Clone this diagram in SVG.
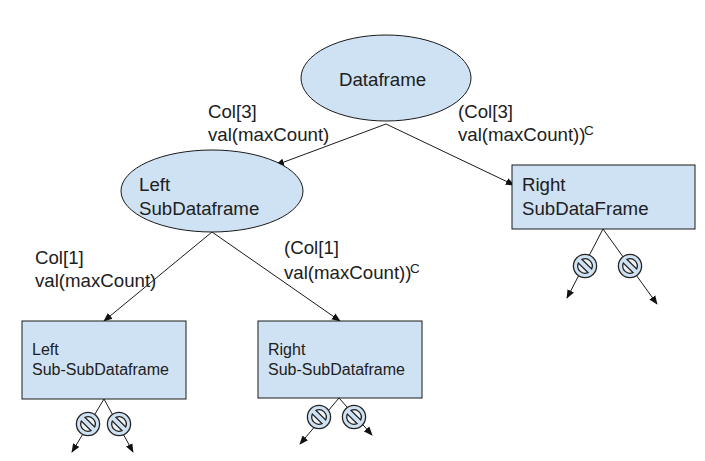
<svg xmlns="http://www.w3.org/2000/svg" width="705" height="461" viewBox="0 0 705 461">
<style>
text{font-family:"Liberation Sans",Arial,sans-serif;font-size:18.67px;fill:#202020}
.s{font-size:16px}
.sup{font-size:13.5px}
.n{fill:#cfe2f3;stroke:#1a1a1a;stroke-width:1}
.c line{stroke:#1a1a1a;stroke-width:1;marker-end:url(#a)}
.r{fill:#cfe2f3;stroke:#222;stroke-width:1.3}
.h{fill:#eef2f5;stroke:#222;stroke-width:1.3}
</style>
<defs>
<marker id="a" viewBox="0 0 10 10" refX="9" refY="5" markerWidth="9" markerHeight="9" markerUnits="userSpaceOnUse" orient="auto"><path d="M0 1 L10 5 L0 9 Z" fill="#111"/></marker>
<g id="nb"><circle r="11.6" class="r"/><g transform="rotate(45)"><path class="h" d="M-6.8 -2.6A7.3 7.3 0 0 1 6.8 -2.6Z"/><path class="h" d="M-6.8 2.6A7.3 7.3 0 0 0 6.8 2.6Z"/></g></g>
</defs>
<g id="connectors" class="c">
<line x1="386" y1="124" x2="276" y2="165"/>
<line x1="386" y1="124" x2="514" y2="185"/>
<line x1="212" y1="232" x2="104" y2="321"/>
<line x1="212" y1="232" x2="340" y2="321"/>
<line x1="603" y1="229" x2="567" y2="298"/>
<line x1="603" y1="229" x2="657" y2="304"/>
<line x1="104" y1="399" x2="72" y2="452"/>
<line x1="104" y1="399" x2="133" y2="452"/>
<line x1="339" y1="398" x2="300" y2="444"/>
<line x1="339" y1="398" x2="372" y2="435"/>
</g>
<g id="dataframe"><ellipse class="n" cx="386" cy="78" rx="85" ry="43"/><text x="339" y="86">Dataframe</text></g>
<g id="left-subdataframe"><ellipse class="n" cx="212" cy="191" rx="91" ry="41"/><text x="139" y="191">Left</text><text x="139" y="215">SubDataframe</text></g>
<g id="right-subdataframe"><rect class="n" x="512" y="165" width="183" height="64"/><text x="522" y="191">Right</text><text x="522" y="215">SubDataFrame</text></g>
<g id="left-sub-subdataframe"><rect class="n" x="22" y="321" width="164" height="78"/><text class="s" x="32" y="355">Left</text><text class="s" x="32" y="375">Sub-SubDataframe</text></g>
<g id="right-sub-subdataframe"><rect class="n" x="258" y="321" width="164" height="77"/><text class="s" x="268" y="355">Right</text><text class="s" x="268" y="375">Sub-SubDataframe</text></g>
<g id="labels">
<text x="208" y="118">Col[3]</text><text x="208" y="141">val(maxCount)</text>
<text x="458" y="118">(Col[3]</text><text x="458" y="141">val(maxCount))</text><text class="sup" x="584" y="135">C</text>
<text x="35" y="264">Col[1]</text><text x="35" y="287">val(maxCount)</text>
<text x="284" y="254">(Col[1]</text><text x="284" y="279">val(maxCount))</text><text class="sup" x="410" y="273">C</text>
</g>
<g id="nb-1"><use href="#nb" x="585" y="266"/></g>
<g id="nb-2"><use href="#nb" x="630" y="266"/></g>
<g id="nb-3"><use href="#nb" x="88" y="424"/></g>
<g id="nb-4"><use href="#nb" x="119" y="424"/></g>
<g id="nb-5"><use href="#nb" x="319" y="417"/></g>
<g id="nb-6"><use href="#nb" x="354" y="417"/></g>
</svg>
